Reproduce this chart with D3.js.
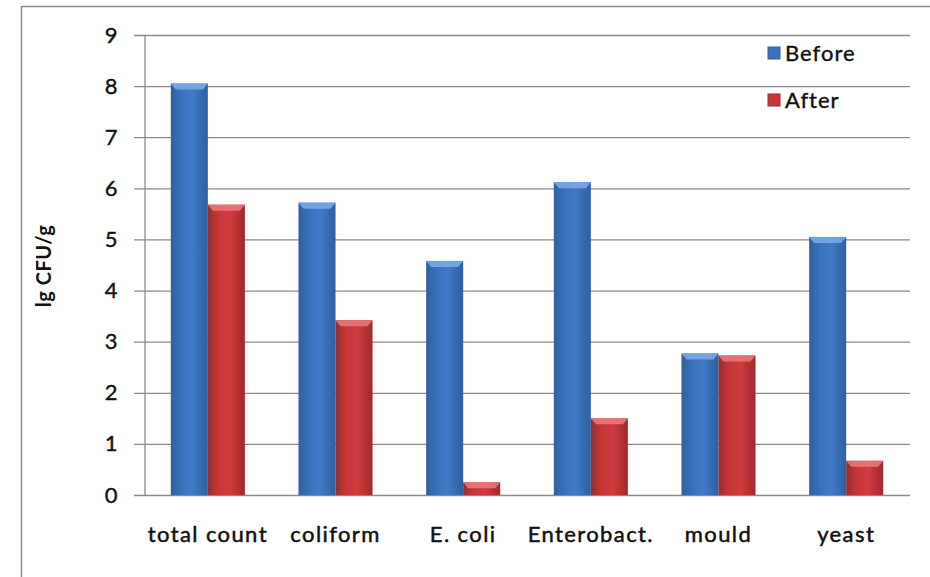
<!DOCTYPE html>
<html>
<head>
<meta charset="utf-8">
<script src="https://cdn.jsdelivr.net/npm/d3@7"></script>
<style>
  body { margin: 0; background: #fff; }
  text { font-family: Lato, "Open Sans", sans-serif; fill: #111; }
</style>
</head>
<body>
<svg id="chart" width="930" height="577"></svg>
<script>
const categories = ['total count', 'coliform', 'E. coli', 'Enterobact.', 'mould', 'yeast'];
const seriesNames = ['Before', 'After'];
const before = [8.05, 5.72, 4.58, 6.12, 2.77, 5.05];
const after = [5.68, 3.42, 0.25, 1.5, 2.73, 0.67];
const yTicks = [0, 1, 2, 3, 4, 5, 6, 7, 8, 9];

const margin = { top: 35, right: 20, bottom: 82, left: 144 };

const svg = d3.select('#chart');

// outer frame
svg.append('rect')
  .attr('x', 21.5).attr('y', 6.5)
  .attr('width', 930).attr('height', 600)
  .attr('fill', 'none')
  .attr('stroke', '#8c8c8c')
  .attr('stroke-width', 1.5);

const defs = svg.append('defs');
function barGradient(id, edge, mid, light) {
  const g = defs.append('linearGradient').attr('id', id)
    .attr('x1', '0%').attr('x2', '100%').attr('y1', '0%').attr('y2', '0%');
  g.append('stop').attr('offset', '0%').attr('stop-color', edge);
  g.append('stop').attr('offset', '30%').attr('stop-color', mid);
  g.append('stop').attr('offset', '60%').attr('stop-color', light);
  g.append('stop').attr('offset', '100%').attr('stop-color', edge);
}
barGradient('gBefore', '#2f5f9f', '#3b72be', '#4079c6');
barGradient('gAfter', '#9c2b2b', '#c73739', '#cf3c3e');

const x0 = d3.scaleBand()
  .domain(categories)
  .range([margin.left, 910])
  .paddingInner(0.42)
  .paddingOuter(0.21);

const x1 = d3.scaleBand()
  .domain(seriesNames)
  .range([0, x0.bandwidth()]);

const y = d3.scaleLinear()
  .domain([0, 9])
  .range([495, 35]);

// gridlines
svg.append('g')
  .selectAll('line')
  .data(yTicks)
  .join('line')
  .attr('x1', 134).attr('x2', 910)
  .attr('y1', d => y(d) + 0.5).attr('y2', d => y(d) + 0.5)
  .attr('stroke', '#8a8a8a')
  .attr('stroke-width', 1.3);

// y axis
const yAxis = svg.append('g')
  .attr('transform', `translate(${margin.left + 0.5},0)`)
  .call(d3.axisLeft(y).tickValues(yTicks).tickSize(0).tickPadding(27));
yAxis.select('.domain').attr('stroke', '#8a8a8a').attr('stroke-width', 1.3);
yAxis.selectAll('text')
  .style('font-size', '22px')
  .style('font-family', 'Lato, sans-serif')
  .attr('fill', '#111')
  .attr('stroke', '#111')
  .attr('stroke-width', 0.4);

// x axis labels
const xAxis = svg.append('g')
  .attr('transform', 'translate(0,495)')
  .call(d3.axisBottom(x0).tickSize(0).tickPadding(31));
xAxis.select('.domain').remove();
xAxis.selectAll('text')
  .style('font-size', '22px')
  .style('font-family', 'Lato, sans-serif')
  .style('letter-spacing', '1.4px')
  .attr('fill', '#111')
  .attr('stroke', '#111')
  .attr('stroke-width', 0.5);

// bars
const rows = categories.map((c, i) => ({ cat: c, vals: [before[i], after[i]] }));
const groups = svg.append('g')
  .selectAll('g')
  .data(rows)
  .join('g')
  .attr('transform', d => `translate(${x0(d.cat)},0)`);

groups.selectAll('g.bar')
  .data(d => d.vals.map((v, k) => ({ key: seriesNames[k], value: v })))
  .join('g')
  .attr('class', 'bar')
  .each(function (d) {
    const g = d3.select(this);
    const bx = x1(d.key);
    const bw = x1.bandwidth();
    const top = y(d.value);
    const isBefore = d.key === 'Before';
    g.append('rect')
      .attr('x', bx).attr('y', top)
      .attr('width', bw).attr('height', y(0) - top)
      .attr('fill', isBefore ? 'url(#gBefore)' : 'url(#gAfter)');
    // bevel highlight on top
    const bev = Math.min(6, (y(0) - top) / 2);
    g.append('path')
      .attr('d', `M${bx},${top} L${bx + bw},${top} L${bx + bw - 5},${top + bev} L${bx + 5},${top + bev} Z`)
      .attr('fill', isBefore ? '#7aa8e6' : '#e8787a')
      .attr('opacity', 0.9);
  });

// y axis title
svg.append('text')
  .attr('transform', 'translate(51,266) rotate(-90)')
  .attr('text-anchor', 'middle')
  .style('font-size', '20px')
  .style('font-weight', 'bold')
  .style('letter-spacing', '0.5px')
  .text('lg CFU/g');

// legend
const legend = svg.append('g')
  .selectAll('g')
  .data(seriesNames)
  .join('g')
  .attr('transform', (d, i) => `translate(768,${47 + i * 47})`);
legend.append('rect')
  .attr('width', 12).attr('height', 12)
  .attr('fill', (d, i) => i === 0 ? '#3b72be' : '#c73739')
  .attr('stroke', (d, i) => i === 0 ? '#2f5f9f' : '#9c2b2b');
legend.append('text')
  .attr('x', 17).attr('y', 6)
  .attr('dy', '0.36em')
  .style('font-size', '22px')
  .style('letter-spacing', '1px')
  .attr('stroke', '#111')
  .attr('stroke-width', 0.4)
  .text(d => d);
</script>
</body>
</html>
